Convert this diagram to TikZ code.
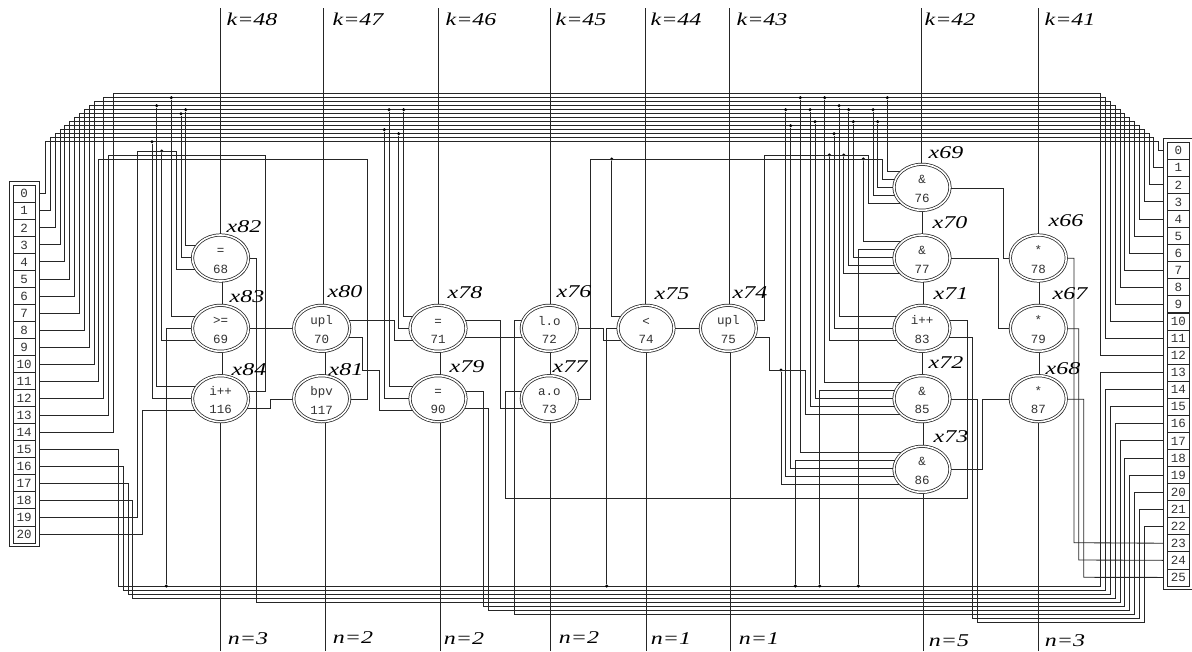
\documentclass[tikz,border=0pt]{standalone}
\usepackage{fontspec}
\setmainfont{Liberation Serif}
\setmonofont{Liberation Mono}
\newfontfamily\varfont[FakeStretch=1.33]{Liberation Serif}
\usetikzlibrary{shapes.geometric,fit,backgrounds}
\tikzset{
  wire/.style={
    draw=black!85,
    line width=0.85pt,
  },
  opnode/.style={
    ellipse,
    draw=black!85,
    line width=0.75pt,
    double,
    double distance=1.6pt,
    fill=white,
    minimum width=56pt,
    minimum height=46pt,
    inner sep=0pt,
    align=center,
    text=black!80,
    font=\ttfamily\fontsize{12.5}{18.6}\selectfont,
  },
  pincell/.style={
    rectangle,
    draw=black!85,
    line width=0.75pt,
    fill=white,
    minimum width=22.5pt,
    minimum height=17.05pt,
    inner sep=0pt,
    text=black!80,
    font=\ttfamily\fontsize{12.5}{12.5}\selectfont,
  },
  pinframe/.style={
    rectangle,
    draw=black!85,
    line width=0.85pt,
    fill=white,
    inner xsep=3.4pt,
    inner ysep=3.2pt,
  },
  junction/.style={
    circle,
    fill=black,
    minimum size=3.4pt,
    inner sep=0pt,
  },
  varlabel/.style={
    inner sep=0pt,
    font=\varfont\itshape\fontsize{18}{18}\selectfont,
  },
}

\begin{document}
\begin{tikzpicture}[x=1pt, y=-1pt]
  \useasboundingbox (0, 0) rectangle (1192, 651);

  \foreach \i [evaluate=\i as \py using 193.8+17.03*\i] in {0,...,20}
    \node[pincell] (l\i) at (24.2, \py) {\i};
  \foreach \i [evaluate=\i as \py using 150.7+17.07*\i] in {0,...,25}
    \node[pincell] (r\i) at (1178.3, \py) {\i};

  \foreach \num/\op/\x/\y in {
    68/=/220.5/258,
    69/>=/220.5/328.3,
    116/i++/220.5/398.7,
    70/upl/321.7/328.3,
    117/bpv/321.7/398.7,
    71/=/438/328.3,
    90/=/438/398.7,
    72/l.o/549.3/328.3,
    73/a.o/549.3/398.7,
    74/</646/328.3,
    75/upl/728.3/328.3,
    76/\&/922/187.3,
    77/\&/922/258,
    83/i++/922/328.3,
    85/\&/922/398.7,
    86/\&/922/469.3,
    78/*/1038.3/258,
    79/*/1038.3/328.3,
    87/*/1038.3/398.7
  }
    \node[opnode] (n\num) at (\x, \y) {\rule{0pt}{12pt}\op\\\num};

  \foreach \var/\x/\y in {
    82/244/227, 83/247/297, 84/249/370,
    80/345/292, 81/346/370,
    78/465/293, 79/467/367,
    76/574/292, 77/570/367,
    75/672/294, 74/750/293,
    69/946/153, 70/950/223, 71/951/294, 72/946/363, 73/951/437,
    66/1066/221, 67/1070/294, 68/1063/369
  }
    \node[varlabel] (x\var) at (\x, \y) {x\var};

  \foreach \num/\tx/\k/\lx in {
    68/220.5/48/252, 70/323.7/47/358, 71/438.3/46/471, 72/550/45/581,
    74/645.7/44/676, 75/729/43/762, 76/921.3/42/950, 78/1038.7/41/1070
  } {
    \node[varlabel] (k\k) at (\lx, 19) {k=\k};
    \coordinate (kt\k) at (\tx, 8);
  }
  \foreach \num/\bx/\n/\lx/\ly [count=\c] in {
    116/220.5/3/248/639, 117/325/2/353/638, 90/440/2/464/639, 73/550/2/579/638,
    74/646.7/1/671/639, 75/730/1/759/639, 86/923.7/5/949/641, 87/1038.7/3/1065/641
  } {
    \node[varlabel] (b\c) at (\lx, \ly) {n=\n};
    \coordinate (bt\c) at (\bx, 651);
  }

  \begin{scope}[on background layer]
    % levels of the k and n lines
    \foreach \num/\k in {68/48, 70/47, 71/46, 72/45, 74/44, 75/43, 76/42, 78/41}
      \draw[wire] (kt\k) -- (kt\k |- n\num);
    \foreach \num [count=\c] in {116, 117, 90, 73, 74, 75, 86, 87}
      \draw[wire] (bt\c) -- (bt\c |- n\num);
    \foreach \a/\b/\x in {
      68/69/222, 69/116/222, 70/117/325, 71/90/440, 72/73/550,
      76/77/922, 77/83/923.7, 83/85/922, 85/86/923.7,
      78/79/1039.5, 79/87/1039.5
    }
      \draw[wire] (n\a -| \x,0) -- (n\b -| \x,0);

    % buses
    \foreach \i/\j/\lx/\rx/\ly in {
      0/0/45.3/1158.3/141.7,
      1/1/50.3/1153.3/137.7,
      2/2/55.3/1149/133.7,
      3/3/60/1144/129.7,
      4/4/64.7/1139.3/125.7,
      5/5/69.7/1134.3/121.7,
      6/6/74.3/1129.7/117.7,
      7/7/79.3/1124.7/113.7,
      8/8/84/1120/109.7,
      9/9/89/1115/105.7,
      10/10/94/1110/101.7,
      12/11/103.7/1105/97.7,
      14/12/113.3/1100.3/93.7,
      15/13/118/1100.3/586,
      16/14/123/1105/590,
      17/15/128/1110/594,
      18/16/132.7/1115/598
    }
      \draw[wire] (l\i) -| (\lx, \ly) -- (\rx, \ly) |- (r\j);

    % taps
    \foreach \num/\wx/\ly/\py [count=\c] in {
      68/185.7/109.7/245.3, 68/181/113.7/257.3,
      69/171.3/97.7/316, 69/166.3/586/328, 69/161.7/151/340,
      116/156.7/105.7/386, 116/152/141.7/398.3,
      71/403.7/109.7/316, 71/398.7/133.7/328,
      90/389/109.7/386, 90/384.3/129.7/398.3,
      74/611.7/159/316, 74/606.7/586/328,
      76/887.3/97.7/171, 76/877.7/121.7/187.3, 76/873/109.7/195.7,
      77/863.3/159/241.3, 77/858.3/586/249.3, 77/853.3/121.7/257.3,
      77/848.7/109.7/265.7, 77/843.7/155/273.7,
      83/839/105.7/316, 83/834/133.7/328, 83/829.3/155/340,
      85/824.7/97.7/382.3, 85/819.7/586/390.3, 85/815/121.7/398.3, 85/810/109.7/406.3,
      86/800.3/97.7/452.3, 86/795.3/586/460.3, 86/790.7/125.7/468.3,
      86/785.7/109.7/476.7, 86/781/370/484.7
    } {
      \node[junction] (tap\c) at (\wx, \ly) {};
      \draw[wire] (tap\c) |- (n\num |- 0,\py);
    }

    % pins to nodes
    \draw[wire] (l11) -| (98.7, 159) -- (367, 159) |- (n117 |- 0,399);
    \draw[wire] (l13) -| (108.3, 155) -- (265.7, 155) |- (n116 |- 0,391);
    \draw[wire] (l19) -| (137.3, 151) -- (176, 151) |- (n68 |- 0,269.3);
    \draw[wire] (l20) -| (142.3, 410.3) -- (n116 |- 0,410.3);

    % nodes to nodes
    \draw[wire] (n116 |- 0,408.3) -| (270.7, 399) -- (n117 |- 0,399);
    \draw[wire] (n69) -- (n70);
    \draw[wire] (n74) -- (n75);
    \draw[wire] (n70 |- 0,320.7) -| (394, 340) -- (n71 |- 0,340);
    \draw[wire] (n70 |- 0,337.7) -| (362.7, 370) -| (379.3, 410.3) -- (n90 |- 0,410.3);
    \draw[wire] (n71 |- 0,320.7) -| (500, 408.3) -- (n73 |- 0,408.3);
    \draw[wire] (n71 |- 0,337.7) -- (n72 |- 0,337.7);
    \draw[wire] (n72 |- 0,328.7) -| (603.3, 340) -- (n74 |- 0,340);
    \draw[wire] (n73 |- 0,399.3) -| (590, 159) -- (882.7, 159) |- (n76 |- 0,179.3);
    \draw[wire] (n75 |- 0,320.7) -| (764, 155) -- (868.3, 155) |- (n76 |- 0,203.3);
    \draw[wire] (n75 |- 0,337.7) -| (769, 370) -- (805.3, 370) |- (n85 |- 0,414.3);
    \draw[wire] (n76 |- 0,188) -| (1003.3, 258.3) -- (n78 |- 0,258.3);
    \draw[wire] (n77 |- 0,258.3) -| (998.7, 328.7) -- (n79 |- 0,328.7);
    \draw[wire] (n83 |- 0,320.7) -| (967.3, 498.3) -- (505, 498.3) |- (n73 |- 0,391);
    \draw[wire] (n86 |- 0,469) -| (982, 399) -- (n87 |- 0,399);

    % nodes to pins
    \draw[wire] (n68 |- 0,258.3) -| (256, 602) -- (1120, 602) |- (r17);
    \draw[wire] (n90 |- 0,391) -| (483.3, 606) -- (1124.7, 606) |- (r18);
    \draw[wire] (n90 |- 0,408) -| (488.3, 610) -- (1129.7, 610) |- (r19);
    \draw[wire] (n72 |- 0,320.7) -| (514.7, 614) -- (1134.3, 614) |- (r20);
    \draw[wire] (n83 |- 0,337.7) -| (972.3, 618) -- (1139.3, 618) |- (r21);
    \draw[wire] (n85 |- 0,399) -| (977, 622) -- (1144, 622) |- (r22);
    \draw[wire] (n78 |- 0,258.3) -| (1074, 542.7) -- (r23);
    \draw[wire] (n79 |- 0,328.7) -| (1078.7, 560) -- (r24);
    \draw[wire] (n87 |- 0,399.3) -| (1083.7, 577.3) -- (r25);

    \node[pinframe, fit=(l0)(l20)] (lframe) {};
    \node[pinframe, fit=(r0)(r25)] (rframe) {};
  \end{scope}
\end{tikzpicture}
\end{document}
